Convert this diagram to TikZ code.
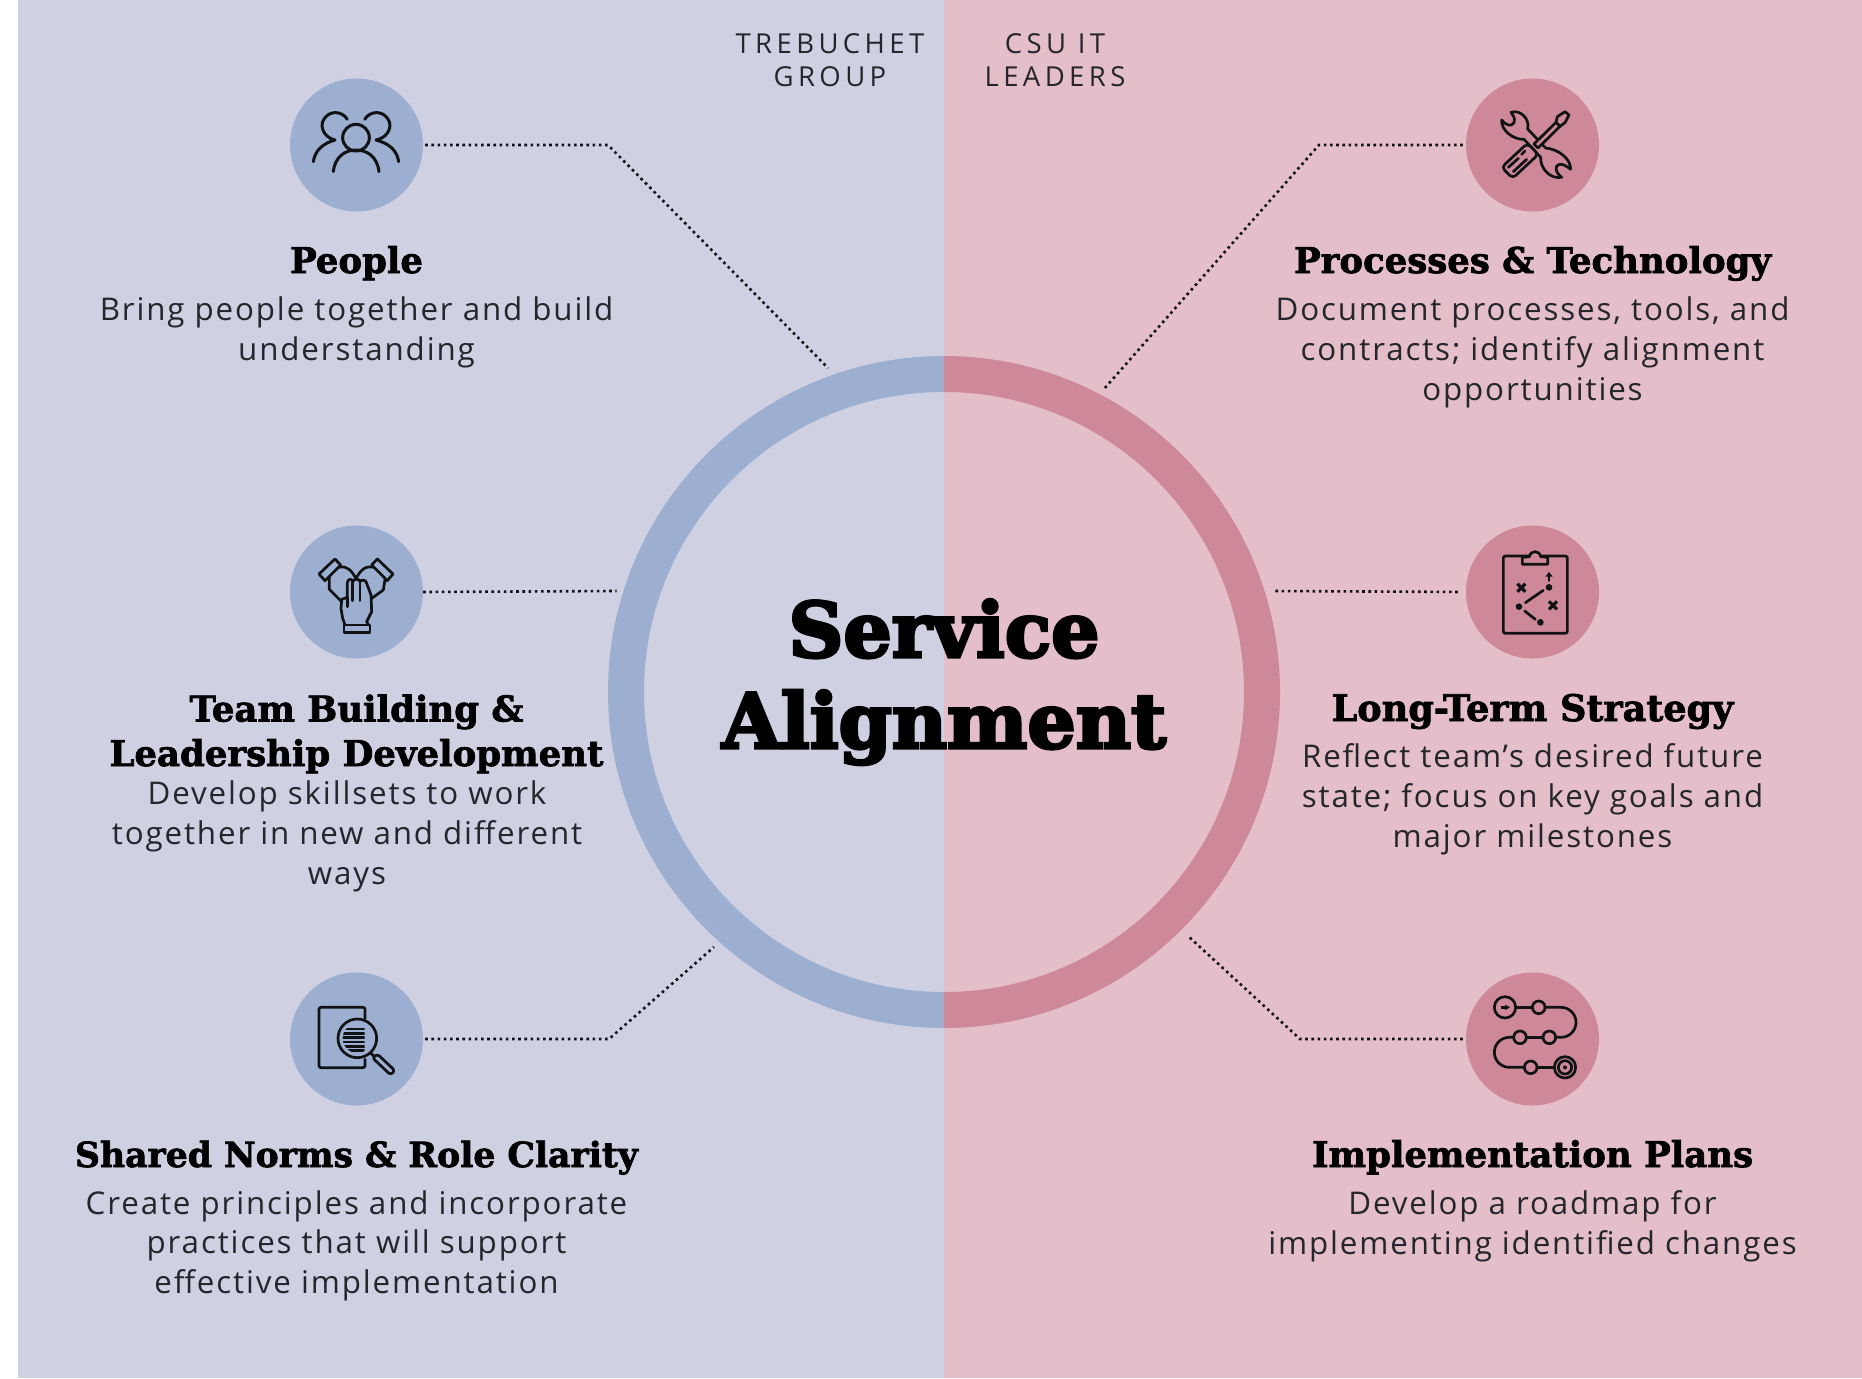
\documentclass[tikz,border=0pt]{standalone}
\usepackage{fontspec}
\setmainfont{Open Sans}[LetterSpace=6]
\newfontfamily\headf{DejaVu Serif}[BoldFont={DejaVu Serif Bold},BoldFeatures={FakeBold=2}]
\newfontfamily\titlef{DejaVu Serif}[BoldFont={DejaVu Serif Bold},BoldFeatures={FakeBold=4}]
\newfontfamily\capf{Open Sans}[LetterSpace=16]
\definecolor{bgL}{HTML}{D0D0E3}
\definecolor{bgR}{HTML}{E4BEC9}
\definecolor{accL}{HTML}{9DAFD0}
\definecolor{accR}{HTML}{CE8999}
\definecolor{ink}{HTML}{101214}
\definecolor{txt}{HTML}{25262B}
\tikzset{
  iconL/.style={circle,fill=accL,minimum size=133pt,inner sep=0pt},
  iconR/.style={circle,fill=accR,minimum size=133pt,inner sep=0pt},
  dotline/.style={ink,line width=2.6pt,dash pattern=on 2.6pt off 3.6pt},
  heading/.style={anchor=base,align=center,inner sep=0pt,text=black,font=\headf\bfseries\fontsize{35.5}{44.5}\selectfont},
  bodytext/.style={anchor=base,align=center,inner sep=0pt,text=txt,font=\fontsize{31.3}{39.7}\selectfont},
  captext/.style={anchor=base,align=center,inner sep=0pt,text=txt,font=\capf\fontsize{27.5}{33.3}\selectfont},
  titletext/.style={anchor=base,align=center,inner sep=0pt,text=black,font=\titlef\bfseries\fontsize{76}{91}\selectfont},
  ic/.style={ink,line width=2.7pt,line cap=round,line join=round},
  zoomed/.style={x=0.33333pt,y=-0.33333pt}
}
\begin{document}
\begin{tikzpicture}[x=1pt,y=-1pt]
\useasboundingbox (0,0) rectangle (1862,1378);
\fill[white] (0,0) rectangle (1862,1378);
\fill[bgL] (18,0) rectangle (943.7,1378);
\fill[bgR] (943.7,0) rectangle (1862,1378);
% ring
\begin{scope}\clip (18,0) rectangle (943.7,1378);
\draw[accL,line width=36pt] (944,692) circle (318);
\end{scope}
\begin{scope}\clip (943.7,0) rectangle (1862,1378);
\draw[accR,line width=36pt] (944,692) circle (318);
\end{scope}
% icon discs
\node[iconL] (people) at (356.5,145) {};
\node[iconL] (team) at (356.5,592) {};
\node[iconL] (norms) at (356.5,1039) {};
\node[iconR] (proc) at (1532.5,145) {};
\node[iconR] (strat) at (1532.5,592) {};
\node[iconR] (impl) at (1532.5,1039) {};
% connector points
\coordinate (b1) at (608,145); \coordinate (e1) at (828,368);
\coordinate (e2) at (616.5,591);
\coordinate (b3) at (609,1039); \coordinate (e3) at (714,947);
\coordinate (b4) at (1319,145); \coordinate (e4) at (1104,389);
\coordinate (e5) at (1272.5,591);
\coordinate (b6) at (1300,1039); \coordinate (e6) at (1188,936);
\draw[dotline,shorten <=2pt] (people.east) -- (b1) -- (e1);
\draw[dotline] (team.east) -- (e2);
\draw[dotline,shorten <=2pt] (norms.east) -- (b3) -- (e3);
\draw[dotline,shorten <=3pt] (proc.west) -- (b4) -- (e4);
\draw[dotline,shorten <=8pt] (strat.west) -- (e5);
\draw[dotline,shorten <=3pt] (impl.west) -- (b6) -- (e6);
% texts
\node[captext] (capL) at (830,86.7) {TREBUCHET\\GROUP};
\node[captext] (capR) at (1055,86.7) {CSU IT\\LEADERS};
\node[titletext] (title) at (944,748) {Service\\Alignment};
\node[heading] (h1) at (356.5,273) {People};
\node[bodytext] (t1) at (356.5,360) {Bring people together and build\\understanding};
\node[heading] (h2) at (356.5,766) {Team Building \&\\Leadership Development};
\node[bodytext] (t2) at (347,884) {Develop skillsets to work\\together in new and different\\ways};
\node[heading] (h3) at (356.5,1167) {\fontsize{34.6}{44.5}\selectfont Shared Norms \& Role Clarity};
\node[bodytext] (t3) at (356.5,1293.5) {Create principles and incorporate\\practices that will support\\effective implementation};
\node[heading] (h4) at (1532.5,273) {Processes \& Technology};
\node[bodytext] (t4) at (1532.5,400) {Document processes, tools, and\\contracts; identify alignment\\opportunities};
\node[heading] (h5) at (1532.5,721) {\fontsize{36.6}{44.5}\selectfont Long-Term Strategy};
\node[bodytext] (t5) at (1532.5,847) {Reflect team’s desired future\\state; focus on key goals and\\major milestones};
\node[heading] (h6) at (1532.5,1167) {Implementation Plans};
\node[bodytext] (t6) at (1532.5,1254) {Develop a roadmap for\\implementing identified changes};
% people icon
\begin{scope}[shift={(270,60)},zoomed]
\draw[ic,line width=3pt] (258,233) circle (40);
\draw[ic,line width=3pt] (190,335) .. controls (195,290) and (225,270) .. (258,270) .. controls (291,270) and (322,290) .. (327,335);
\draw[ic,line width=3pt] (232,178) .. controls (215,150) and (172,150) .. (158,185) .. controls (150,210) and (170,235) .. (195,240) .. controls (160,250) and (135,270) .. (130,305);
\draw[ic,line width=3pt] (284,178) .. controls (301,150) and (344,150) .. (358,185) .. controls (366,210) and (346,235) .. (318,240) .. controls (356,250) and (381,270) .. (386,305);
\end{scope}
% tools icon
\begin{scope}[shift={(1450,60)},zoomed]
\draw[ic] (183,157) .. controls (210,148) and (240,175) .. (233,207) -- (287,264) .. controls (325,268) and (362,295) .. (362,328) .. controls (350,318) and (330,305) .. (320,318) .. controls (315,330) and (322,342) .. (335,352) .. controls (300,358) and (270,325) .. (272,292) -- (222,238) .. controls (190,240) and (152,210) .. (155,180) .. controls (165,195) and (185,202) .. (192,188) .. controls (196,175) and (190,165) .. (183,157) -- cycle;
\fill[accR,rounded corners=3pt] (155,322) -- (232,250) -- (265,283) -- (188,355) -- cycle;
\draw[ic,rounded corners=4pt] (155,322) -- (232,250) -- (265,283) -- (188,355) -- cycle;
\draw[ic,fill=accR] (252,252) -- (318,187) -- (330,199) -- (264,264) -- cycle;
\draw[ic,fill=accR] (318,187) -- (322,170) -- (345,155) -- (357,165) -- (345,188) -- (330,199) -- cycle;
\draw[ic] (175,322) -- (205,295);
\draw[ic] (190,335) -- (230,298);
\draw[ic] (215,283) -- (225,273);
\end{scope}
% hands icon
\begin{scope}[shift={(270,510)},zoomed]
\draw[ic] (222,345) rectangle (300,367);
\draw[ic] (147,192) -- (195,147) -- (212,165) -- (165,212) -- cycle;
\draw[ic] (369,192) -- (322,147) -- (305,165) -- (352,212) -- cycle;
\draw[ic] (178,203) -- (178,238) -- (215,275);
\draw[ic] (205,172) .. controls (235,165) and (245,185) .. (258,205) .. controls (270,185) and (282,165) .. (312,172);
\draw[ic] (345,208) -- (340,240) -- (305,265);
\draw[ic] (225,345) -- (218,325) -- (213,295) -- (215,268) -- (232,262) -- (232,218) .. controls (234,205) and (246,205) .. (248,215) .. controls (252,205) and (268,205) .. (270,215) .. controls (274,208) and (288,208) .. (290,220) -- (303,255) -- (305,305) -- (290,335) -- (296,345);
\draw[ic] (232,262) -- (232,290);
\draw[ic] (248,215) -- (248,272);
\draw[ic] (270,215) -- (270,272);
\end{scope}
% clipboard icon
\begin{scope}[shift={(1450,510)},zoomed]
\draw[ic,rounded corners=2pt] (160,138) rectangle (352,370);
\draw[ic,fill=accR] (217,142) -- (217,163) -- (293,163) -- (293,142) -- (272,140) .. controls (268,120) and (242,120) .. (238,140) -- cycle;
\draw[ink,line width=3.2pt] (202,221) -- (226,245) (226,221) -- (202,245);
\draw[ink,line width=3.2pt] (297,274) -- (321,298) (321,274) -- (297,298);
\fill[ink] (207,290) circle (10) (297,232) circle (10) (271,337) circle (10);
\draw[ic] (226,278) -- (280,241);
\draw[ic] (224,303) -- (256,328);
\draw[ic] (297,212) -- (297,192);
\fill[ink] (286,200) -- (297,186) -- (308,200) -- cycle;
\end{scope}
% document search icon
\begin{scope}[shift={(270,960)},zoomed]
\draw[ic,rounded corners=2pt] (285,175) -- (285,142) -- (147,142) -- (147,323) -- (285,323) -- (285,298);
\begin{scope}
\clip (262,235) circle (44);
\clip (200,160) rectangle (284,300);
\foreach \yy in {207,220,233,246,259,272} {\draw[ink,line width=2.4pt] (210,\yy) -- (284,\yy);}
\end{scope}
\draw[ic] (262,235) circle (58);
\draw[ic] (302,279) -- (312,289);
\draw[ic,rounded corners=3pt] (307,293) -- (322,282) -- (375,332) -- (362,345) -- cycle;
\end{scope}
% route icon
\begin{scope}[shift={(1450,960)},zoomed]
\draw[ic] (165,142) circle (32);
\draw[ink,line width=3pt] (153,142) -- (170,142);
\fill[ink] (166,134) -- (180,142) -- (166,150) -- cycle;
\draw[ic] (197,142) -- (247,142);
\draw[ic,rounded corners=15pt] (285,142) -- (378,142) -- (378,232) -- (317,232);
\draw[ic] (229,232) -- (279,232);
\draw[ic,rounded corners=15pt] (191,232) -- (133,232) -- (133,322) -- (223,322);
\draw[ic] (261,322) -- (313,322);
\draw[ic] (266,142) circle (19);
\draw[ic] (210,232) circle (19);
\draw[ic] (298,232) circle (19);
\draw[ic] (242,322) circle (19);
\draw[ic] (345,322) circle (32);
\draw[ic] (345,322) circle (20);
\fill[ink] (345,322) circle (6);
\end{scope}
\end{tikzpicture}
\end{document}
